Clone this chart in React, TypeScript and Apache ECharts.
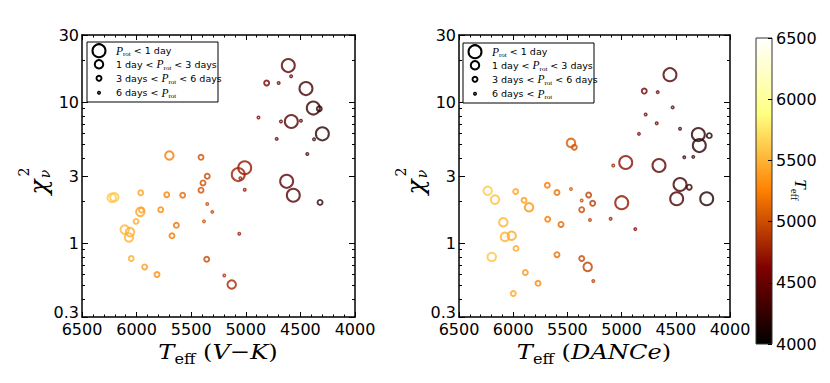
import React, { useEffect, useRef } from "react";
import * as echarts from "echarts";

// ---------- data ----------
// Left panel: Teff from V-K
const LEFT_TEFF = [4611, 4585, 4809, 4699, 4449, 4382, 4327, 4884, 4678, 4583, 4495, 4299, 4375, 4717, 4437,
  5700, 5410, 5353, 5010, 5069, 5050, 5392, 5410, 5010, 4626, 4565, 4320,
  6228, 6204, 5962, 5724, 5578, 5966, 5955, 5779, 5353, 5307, 6005, 5383, 5636,
  6109, 6060, 6070, 5676, 5060, 6049, 5358, 5926, 5813, 5197, 5129];
const LEFT_CHI2 = [18.2, 15.3, 13.7, 13.7, 12.5, 9.1, 9.0, 7.8, 7.3, 7.3, 7.4, 5.97, 5.47, 5.5, 4.3,
  4.19, 4.07, 2.99, 3.43, 3.07, 2.89, 2.68, 2.38, 2.40, 2.75, 2.19, 1.95,
  2.10, 2.12, 2.28, 2.21, 2.19, 1.67, 1.72, 1.73, 1.90, 1.67, 1.43, 1.43, 1.34,
  1.25, 1.20, 1.10, 1.13, 1.17, 0.78, 0.77, 0.68, 0.60, 0.59, 0.51];
// rotation-period class: 0 = P<1 d, 1 = 1-3 d, 2 = 3-6 d, 3 = >6 d
const LEFT_PCLASS = [0, 3, 2, 3, 0, 0, 2, 3, 3, 0, 3, 0, 3, 3, 3,
  1, 2, 2, 0, 0, 3, 2, 2, 3, 0, 0, 2,
  1, 1, 2, 2, 2, 1, 2, 2, 3, 3, 2, 3, 2,
  1, 1, 1, 2, 3, 2, 2, 2, 2, 3, 1];

// Right panel: Teff from DANCe
const RIGHT_TEFF = [4554, 4791, 4667, 4529, 4778, 4676, 4461, 4840, 4292, 4191, 4283, 5467, 5436, 4422, 4339,
  5077, 4962, 4655, 4461, 4376, 4492, 4215, 4999,
  6235, 6168, 5977, 5900, 5854, 5685, 5596, 5467, 5368, 5304, 5267, 5368, 5101, 5292, 5682, 5559, 4874,
  6091, 6076, 6014, 5974, 6198, 5596, 5368, 5313, 5888, 5771, 5261, 5999];
const RIGHT_CHI2 = [15.7, 12.0, 11.8, 9.2, 8.2, 7.1, 6.5, 5.97, 5.9, 5.8, 4.93, 5.15, 4.8, 4.07, 4.1,
  3.56, 3.74, 3.56, 2.61, 2.50, 2.07, 2.07, 1.94,
  2.36, 2.04, 2.33, 2.02, 1.80, 2.58, 2.29, 2.43, 2.01, 2.20, 1.92, 1.73, 1.49, 1.46, 1.48, 1.36, 1.26,
  1.41, 1.11, 1.13, 0.92, 0.80, 0.83, 0.78, 0.68, 0.62, 0.52, 0.54, 0.44];
const RIGHT_PCLASS = [0, 2, 3, 3, 3, 3, 3, 3, 0, 2, 0, 1, 2, 3, 3,
  3, 0, 0, 0, 2, 0, 0, 0,
  1, 1, 2, 2, 1, 2, 2, 3, 3, 2, 2, 2, 3, 3, 2, 2, 3,
  1, 1, 1, 2, 1, 2, 2, 1, 2, 2, 3, 2];

const Y_MAJOR = [0.3, 1, 3, 10, 30];
const Y_MINOR = [0.4, 0.5, 0.6, 0.7, 0.8, 0.9, 2, 4, 5, 6, 7, 8, 9, 20];
const X_MIN = 4000;
const X_MAX = 6500;
const X_STEP = 500;
const CBAR_MIN = 4000;
const CBAR_MAX = 6500;

const LEGEND_LABELS = [
  "{p|P}{s|rot}{n| < 1 day}",
  "{n|1 day < }{p|P}{s|rot}{n| < 3 days}",
  "{n|3 days < }{p|P}{s|rot}{n| < 6 days}",
  "{n|6 days < }{p|P}{s|rot}",
];

// ---------- styling ----------
const SYM_SIZE = [13, 8.5, 5, 2.5];
const SYM_LW = [2, 2, 1.9, 1.5];
const SANS = "DejaVu Sans";
const SERIF = "Liberation Serif";
const MATH = "DejaVu Serif";

function clamp(v: number) {
  return Math.max(0, Math.min(1, v));
}
function afmhot(x: number) {
  const r = Math.round(255 * clamp(2 * x));
  const g = Math.round(255 * clamp(2 * x - 0.5));
  const b = Math.round(255 * clamp(2 * x - 1));
  return `rgb(${r},${g},${b})`;
}
function pointColor(t: number) {
  return afmhot((0.72 * (t - 4000)) / 2500);
}

function makeData(teff: number[], chi: number[], cls: number[]) {
  return teff.map((t, i) => ({
    value: [t, Math.log10(chi[i])],
    symbolSize: SYM_SIZE[cls[i]],
    itemStyle: {
      color: "rgba(0,0,0,0)",
      borderColor: pointColor(t),
      borderWidth: SYM_LW[cls[i]],
    },
  }));
}

const LY0 = Math.log10(Y_MAJOR[0]);
const LY1 = Math.log10(Y_MAJOR[Y_MAJOR.length - 1]);
const yMajorVals = Y_MAJOR.map((v) => Math.log10(v));
const yMinorVals = Y_MINOR.map((v) => Math.log10(v));

function fmtY(v: number) {
  const idx = Y_MAJOR.findIndex((d) => Math.abs(Math.log10(d) - v) < 1e-6);
  if (idx < 0) return "";
  return idx === 0 ? `{lo|${Y_MAJOR[idx]}}` : String(Y_MAJOR[idx]);
}

const LINE = { color: "#000", width: 1.5 };
const TICK = { color: "#000", width: 1 };

function xAxes(gridIndex: number) {
  const base: any = {
    type: "value",
    gridIndex,
    min: X_MIN,
    max: X_MAX,
    interval: X_STEP,
    inverse: true,
    splitLine: { show: false },
    axisLine: { show: true, onZero: false, lineStyle: LINE },
    axisTick: { show: true, inside: true, length: 5, lineStyle: TICK },
    minorTick: { show: true, splitNumber: 5, length: 2.5, lineStyle: TICK },
  };
  return [
    {
      ...base,
      position: "bottom",
      axisLabel: {
        show: true,
        fontSize: 16,
        fontFamily: SANS,
        color: "#000",
        margin: 4,
        formatter: (v: number) => String(v),
      },
    },
    { ...base, position: "top", axisLabel: { show: false } },
  ];
}

function majorYAxes(gridIndex: number) {
  const base: any = {
    type: "value",
    gridIndex,
    min: LY0,
    max: LY1,
    splitLine: { show: false },
    axisLine: { show: true, onZero: false, lineStyle: LINE },
    axisTick: { show: true, inside: true, length: 6, customValues: yMajorVals, lineStyle: TICK },
  };
  return [
    {
      ...base,
      position: "left",
      axisLabel: {
        show: true,
        customValues: yMajorVals,
        formatter: (v: number) => fmtY(v),
        fontSize: 16,
        fontFamily: SANS,
        color: "#000",
        margin: 3,
        rich: { lo: { fontSize: 16, fontFamily: SANS, color: "#000", padding: [0, 0, 9, 0] } },
      },
    },
    { ...base, position: "right", axisLabel: { show: false } },
  ];
}

function minorYAxes(gridIndex: number) {
  const base: any = {
    type: "value",
    gridIndex,
    min: LY0,
    max: LY1,
    splitLine: { show: false },
    axisLine: { show: false, onZero: false },
    axisTick: { show: true, inside: true, length: 3, customValues: yMinorVals, lineStyle: TICK },
    axisLabel: { show: false },
  };
  return [
    { ...base, position: "left" },
    { ...base, position: "right" },
  ];
}

function hiddenX(gridIndex: number) {
  return { type: "value", gridIndex, min: X_MIN, max: X_MAX, show: false };
}

function legendGraphics(x0: number, y0: number) {
  const els: any[] = [
    {
      type: "rect",
      shape: { x: x0, y: y0, width: 131, height: 60 },
      style: { fill: "#fff", stroke: "#000", lineWidth: 1 },
      z: 10,
    },
  ];
  const rowY = [8.7, 22.3, 36.3, 50.7];
  for (let i = 0; i < 4; i++) {
    els.push({
      type: "circle",
      shape: { cx: x0 + 12, cy: y0 + rowY[i], r: SYM_SIZE[i] / 2 },
      style: { fill: "none", stroke: "#000", lineWidth: SYM_LW[i] },
      z: 11,
    });
    els.push({
      type: "text",
      x: x0 + 29,
      y: y0 + rowY[i],
      z: 11,
      style: {
        text: LEGEND_LABELS[i],
        align: "left",
        verticalAlign: "middle",
        textAlign: "left",
        textVerticalAlign: "middle",
        rich: {
          n: { fontSize: 9.5, fontFamily: SANS, fill: "#000", color: "#000", lineHeight: 14 },
          p: { fontSize: 11.5, fontFamily: SERIF, fontStyle: "italic", fill: "#000", color: "#000", lineHeight: 14 },
          s: { fontSize: 7, fontFamily: SERIF, fill: "#000", color: "#000", lineHeight: 7, verticalAlign: "bottom" },
        },
      },
    });
  }
  return els;
}

function yTitle(dx: number) {
  const common = { align: "center", verticalAlign: "middle", textAlign: "center", textVerticalAlign: "middle", fill: "#000" };
  return [
    {
      type: "text",
      x: 38 + dx,
      y: 187,
      rotation: Math.PI / 2,
      style: { ...common, text: "χ", fontSize: 25, fontFamily: MATH, fontStyle: "italic" },
    },
    {
      type: "text",
      x: 24 + dx,
      y: 172,
      rotation: Math.PI / 2,
      style: { ...common, text: "2", fontSize: 14, fontFamily: MATH },
    },
    {
      type: "text",
      x: 45 + dx,
      y: 174,
      rotation: Math.PI / 2,
      style: { ...common, text: "ν", fontSize: 14, fontFamily: MATH, fontStyle: "italic" },
    },
  ];
}

const TITLE_RICH = {
  t: { fontSize: 21, fontFamily: MATH, fontStyle: "italic", fill: "#000", color: "#000", lineHeight: 28 },
  n: { fontSize: 21, fontFamily: MATH, fill: "#000", color: "#000", lineHeight: 28 },
  s: { fontSize: 14, fontFamily: MATH, fill: "#000", color: "#000", lineHeight: 14, verticalAlign: "bottom" },
};

function xTitle(cx: number, text: string) {
  return {
    type: "text",
    x: cx,
    y: 352,
    scaleX: 1.15,
    style: {
      text,
      align: "center",
      verticalAlign: "middle",
      textAlign: "center",
      textVerticalAlign: "middle",
      rich: TITLE_RICH,
    },
  };
}

export default function App() {
  const ref = useRef<HTMLDivElement>(null);

  useEffect(() => {
    if (!ref.current) return;
    const chart = echarts.init(ref.current, undefined, { renderer: "svg" });

    const cbarStops = [];
    for (let i = 0; i <= 20; i++) {
      const off = i / 20;
      cbarStops.push({ offset: off, color: afmhot(1 - off) });
    }

    const option: any = {
      animation: false,
      backgroundColor: "#fff",
      grid: [
        { left: 82, top: 35, width: 273, height: 282 },
        { left: 459, top: 35, width: 271, height: 282 },
        { left: 756, top: 38, width: 16, height: 306 },
        { left: 82, top: 35, width: 273, height: 282 },
        { left: 459, top: 35, width: 271, height: 282 },
      ],
      xAxis: [
        ...xAxes(0), // 0,1
        ...xAxes(1), // 2,3
        { type: "value", gridIndex: 2, show: false, min: 0, max: 1 }, // 4
        hiddenX(3), // 5
        hiddenX(4), // 6
      ],
      yAxis: [
        ...majorYAxes(0), // 0,1
        ...majorYAxes(1), // 2,3
        {
          type: "value",
          gridIndex: 2,
          min: CBAR_MIN,
          max: CBAR_MAX,
          interval: 500,
          position: "right",
          splitLine: { show: false },
          axisLine: { show: false, onZero: false },
          axisTick: { show: true, inside: true, length: 4, lineStyle: TICK },
          axisLabel: {
            show: true,
            fontSize: 16,
            fontFamily: SANS,
            color: "#000",
            margin: 4,
            formatter: (v: number) => String(v),
          },
        }, // 4
        ...minorYAxes(3), // 5,6
        ...minorYAxes(4), // 7,8
      ],
      series: [
        {
          type: "scatter",
          xAxisIndex: 0,
          yAxisIndex: 0,
          data: makeData(LEFT_TEFF, LEFT_CHI2, LEFT_PCLASS),
          z: 3,
        },
        {
          type: "scatter",
          xAxisIndex: 2,
          yAxisIndex: 2,
          data: makeData(RIGHT_TEFF, RIGHT_CHI2, RIGHT_PCLASS),
          z: 3,
        },
      ],
      graphic: [
        {
          type: "rect",
          z: -1,
          shape: { x: 756, y: 38, width: 16, height: 306 },
          style: {
            fill: new echarts.graphic.LinearGradient(0, 0, 0, 1, cbarStops),
            stroke: "#333",
            lineWidth: 1,
          },
        },
        ...legendGraphics(87, 42),
        ...legendGraphics(463, 43),
        ...yTitle(0),
        ...yTitle(377),
        xTitle(218, "{t|T}{s|eff}{n| (}{t|V}{n|−}{t|K}{n|)}"),
        xTitle(594, "{t|T}{s|eff}{n| (}{t|DANCe}{n|)}"),
        {
          type: "text",
          x: 800,
          y: 190,
          rotation: -Math.PI / 2,
          style: {
            text: "{t|T}{s|eff}",
            align: "center",
            verticalAlign: "middle",
            textAlign: "center",
            textVerticalAlign: "middle",
            rich: {
              t: { fontSize: 17, fontFamily: SERIF, fontStyle: "italic", fill: "#000", color: "#000", lineHeight: 22 },
              s: { fontSize: 11, fontFamily: SERIF, fill: "#000", color: "#000", lineHeight: 11, verticalAlign: "bottom" },
            },
          },
        },
      ],
    };

    chart.setOption(option);
    return () => chart.dispose();
  }, []);

  return (
    <div
      ref={ref}
      style={{ position: "absolute", left: 0, top: 0, width: 830, height: 383 }}
    />
  );
}
